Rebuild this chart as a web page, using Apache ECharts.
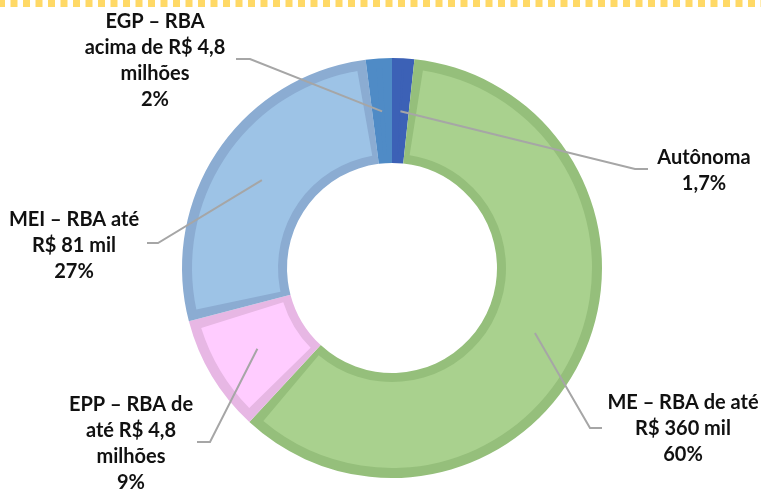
<!DOCTYPE html>
<html>
<head>
<meta charset="utf-8">
<script src="https://cdn.jsdelivr.net/npm/echarts@6/dist/echarts.min.js"></script>
<style>
  html, body { margin: 0; padding: 0; background: #fff; }
  #main { width: 761px; height: 492px; }
</style>
</head>
<body>
<div id="main"></div>
<script>
// categorias, no sentido horário a partir do topo
var categories = [
  'Autônoma',
  'ME – RBA de até\nR$ 360 mil',
  'EPP – RBA de\naté R$ 4,8\nmilhões',
  'MEI – RBA até\nR$ 81 mil',
  'EGP – RBA\nacima de R$ 4,8\nmilhões'
];
// participação (%)
var shares = [1.7, 60, 9, 27, 2];

// cores: preenchimento e borda de cada fatia
var fillColors = ['#3c61b6', '#a9d18e', '#ffccff', '#9dc3e6', '#4f8bc6'];
var edgeColors = ['#3c61b6', '#95bf7b', '#e7b7e4', '#8bacd2', '#4f8bc6'];
var clear = ['rgba(0,0,0,0)', 'rgba(0,0,0,0)', 'rgba(0,0,0,0)', 'rgba(0,0,0,0)', 'rgba(0,0,0,0)'];

// posição dos rótulos e cotovelo da linha guia (px)
var labelPos = [[704, 171], [683, 429], [131, 444], [74, 246], [155, 61]];
var elbows = [
  [[635, 169], [648, 169]],
  [[590, 428], [602, 428]],
  [[210, 442], [197, 442]],
  [[158, 243], [147, 243]],
  [[250, 59], [236, 59]]
];

var cx = 392, cy = 268;
var rIn = 105, rOut = 210, rMid = 157;

function fmt(v) {
  return String(v).replace('.', ',') + '%';
}

function pieData(colors) {
  return categories.map(function (c, i) {
    return { name: c, value: shares[i], itemStyle: { color: colors[i] } };
  });
}

var chart = echarts.init(document.getElementById('main'), null, { renderer: 'canvas' });

var base = {
  type: 'pie',
  center: [cx, cy],
  startAngle: 90,
  clockwise: true,
  silent: true,
  label: { show: false },
  labelLine: { show: false }
};

chart.setOption({
  animation: false,
  graphic: [{
    type: 'line',
    shape: { x1: 0, y1: 3.4, x2: 761, y2: 3.4 },
    style: { stroke: '#ffd966', lineWidth: 7, lineDash: [7, 5.5], lineDashOffset: 2 },
    silent: true
  }],
  series: [
    // borda
    Object.assign({}, base, {
      radius: [rIn, rOut],
      data: pieData(edgeColors)
    }),
    // preenchimento
    Object.assign({}, base, {
      radius: [rIn + 9, rOut - 10],
      padAngle: 5.5,
      data: pieData(fillColors)
    }),
    // rótulos por cima
    Object.assign({}, base, {
      radius: [rIn, rOut],
      z: 5,
      label: {
        show: true,
        position: 'outside',
        formatter: function (p) { return p.name + '\n' + fmt(p.value); },
        fontFamily: 'Lato',
        fontWeight: 'bold',
        fontSize: 20,
        lineHeight: 26,
        color: '#111',
        align: 'center',
        overflow: 'none'
      },
      labelLine: {
        show: true,
        lineStyle: { color: '#a6a6a6', width: 2 }
      },
      labelLayout: function (params) {
        var i = params.dataIndex;
        var p0 = params.labelLinePoints ? params.labelLinePoints[0] : [cx, cy - rOut];
        var dx = p0[0] - cx, dy = p0[1] - cy;
        var len = Math.sqrt(dx * dx + dy * dy) || 1;
        var start = [cx + dx / len * rMid, cy + dy / len * rMid];
        return {
          x: labelPos[i][0],
          y: labelPos[i][1],
          align: 'center',
          verticalAlign: 'middle',
          labelLinePoints: [start, elbows[i][0], elbows[i][1]]
        };
      },
      data: pieData(clear)
    })
  ]
});
</script>
</body>
</html>
